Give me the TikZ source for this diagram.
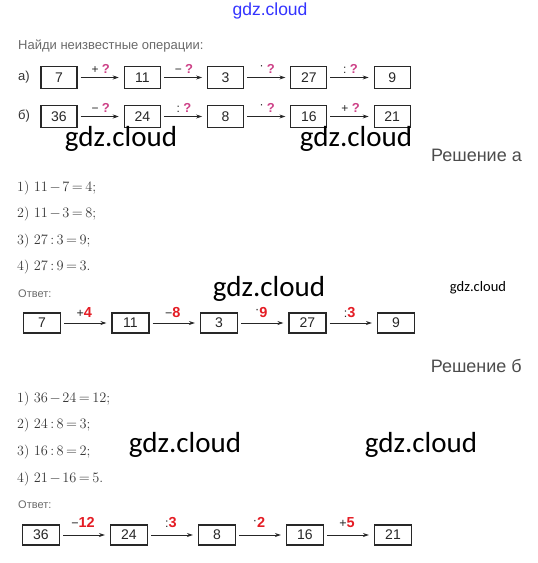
\documentclass[tikz,border=0pt]{standalone}
\usepackage{fontspec}
\newfontfamily\sansf{Liberation Sans}
\newfontfamily\wmf{Carlito}
\usetikzlibrary{arrows.meta}

\definecolor{txtgray}{RGB}{105,105,105}
\definecolor{qmag}{RGB}{205,65,135}
\definecolor{ansred}{RGB}{228,28,36}
\definecolor{boxline}{RGB}{40,40,40}

\newcommand\qm{\textcolor{qmag}{\fontsize{13}{13}\selectfont\bfseries ?}}
\newcommand\dotop{\raisebox{3.5pt}{\textperiodcentered}}
\newcommand\ans[2]{{\fontsize{12.5}{12.5}\selectfont #1}{\fontsize{14.5}{14.5}\selectfont\bfseries\color{ansred}#2}}
\newcommand\eqn[1]{$\medmuskip=2mu\relax\thickmuskip=3mu\relax #1$}

\tikzset{
  numbox/.style={
    draw=boxline,
    line width=1.1pt,
    minimum width=36pt,
    minimum height=22pt,
    inner sep=0pt,
    text=black!85,
    font=\sansf\fontsize{14}{14}\selectfont
  },
  ansbox/.style={
    numbox,
    minimum width=37pt,
    minimum height=20pt
  },
  oparrow/.style={
    -{Stealth[length=6pt,width=4pt]},
    line width=0.8pt,
    black!85,
    shorten <=3pt,
    shorten >=5pt
  },
  qlabel/.style={
    above=4pt,
    inner sep=0pt,
    font=\sansf\fontsize{12}{12}\selectfont
  },
  anslabel/.style={
    above=5pt,
    inner sep=0pt,
    xshift=-2pt,
    font=\sansf
  },
  gtext/.style={
    anchor=west,
    inner sep=0pt,
    text=txtgray,
    font=\sansf\fontsize{13}{13}\selectfont
  },
  steptext/.style={
    anchor=west,
    inner sep=0pt,
    text=black!78,
    font=\fontsize{14}{14}\selectfont
  },
  headtext/.style={
    anchor=east,
    inner sep=0pt,
    text=black!70,
    font=\sansf\fontsize{18}{18}\selectfont
  },
  watermark/.style={
    inner sep=0pt,
    text=black,
    font=\wmf\fontsize{29}{29}\selectfont
  }
}

\begin{document}
\begin{tikzpicture}[x=1pt,y=-1pt]

    \useasboundingbox (0,0) rectangle (538,563);

    % site name
    \node[inner sep=0pt, text=blue!80, font=\sansf\fontsize{17.5}{17.5}\selectfont] (site) at (270,11) {gdz.cloud};

    % task
    \node[gtext] (task) at (18,46) {Найди неизвестные операции:};
    \node[gtext, text=black!80, font=\sansf\fontsize{13}{13}\selectfont] (la) at (18,77.5) {а)};
    \node[gtext, text=black!80, font=\sansf\fontsize{13}{13}\selectfont] (lb) at (18,116.5) {б)};

    \foreach \v [count=\i] in {7,11,3,27,9} {
        \node[numbox] (a\i) at ({59+(\i-1)*83.3},77.5) {\v};
    }
    \foreach \v [count=\i] in {36,24,8,16,21} {
        \node[numbox] (b\i) at ({59+(\i-1)*83.3},116.5) {\v};
    }
    \foreach \i/\j/\op in {1/2/+,2/3/−,3/4/\dotop,4/5/:} {
        \draw[oparrow] (a\i) -- node[qlabel] {\op\;\qm} (a\j);
    }
    \foreach \i/\j/\op in {1/2/−,2/3/:,3/4/\dotop,4/5/+} {
        \draw[oparrow] (b\i) -- node[qlabel] {\op\;\qm} (b\j);
    }

    % watermarks
    \node[watermark] (wm1) at (121,139) {gdz.cloud};
    \node[watermark] (wm2) at (356,139) {gdz.cloud};
    \node[watermark] (wm3) at (269,289) {gdz.cloud};
    \node[watermark, font=\wmf\fontsize{14.5}{14.5}\selectfont] (wm4) at (478,288) {gdz.cloud};
    \node[watermark] (wm5) at (185,445) {gdz.cloud};
    \node[watermark] (wm6) at (421,445) {gdz.cloud};

    % solution a
    \node[headtext] (sola) at (522,155) {Решение а};
    \node[steptext] (sa1) at (17,188) {1) \eqn{11-7=4};};
    \node[steptext] (sa2) at (17,214) {2) \eqn{11-3=8};};
    \node[steptext] (sa3) at (17,241) {3) \eqn{27:3=9};};
    \node[steptext] (sa4) at (17,267) {4) \eqn{27:9=3}.};
    \node[gtext, font=\sansf\fontsize{11}{11}\selectfont] (ansa) at (18,294) {Ответ:};

    \foreach \v [count=\i] in {7,11,3,27,9} {
        \node[ansbox] (c\i) at ({42+(\i-1)*88.5},323) {\v};
    }
    \foreach \i/\j/\op/\n in {1/2/+/4,2/3/−/8,3/4/\dotop/9,4/5/:/3} {
        \draw[oparrow] (c\i) -- node[anslabel] {\ans{\op}{\n}} (c\j);
    }

    % solution b
    \node[headtext] (solb) at (522,366) {Решение б};
    \node[steptext] (sb1) at (17,399) {1) \eqn{36-24=12};};
    \node[steptext] (sb2) at (17,425) {2) \eqn{24:8=3};};
    \node[steptext] (sb3) at (17,452) {3) \eqn{16:8=2};};
    \node[steptext] (sb4) at (17,479) {4) \eqn{21-16=5}.};
    \node[gtext, font=\sansf\fontsize{11}{11}\selectfont] (ansb) at (18,505) {Ответ:};

    \foreach \v [count=\i] in {36,24,8,16,21} {
        \node[ansbox] (d\i) at ({41+(\i-1)*88},535) {\v};
    }
    \foreach \i/\j/\op/\n in {1/2/−/12,2/3/:/3,3/4/\dotop/2,4/5/+/5} {
        \draw[oparrow] (d\i) -- node[anslabel, above=2pt] {\ans{\op}{\n}} (d\j);
    }

\end{tikzpicture}
\end{document}
